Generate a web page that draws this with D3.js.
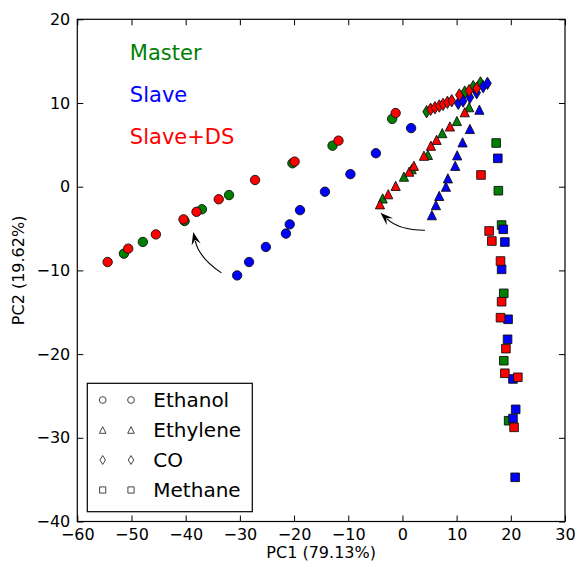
<!DOCTYPE html>
<html><head><meta charset="utf-8">
<script src="https://cdn.jsdelivr.net/npm/d3@7"></script>
<style>body{margin:0;background:#fff} svg{display:block}</style>
</head><body><svg id="c" width="575" height="565"></svg>
<script>
// ---------- data ----------
const seriesNames = ["Master", "Slave", "Slave+DS"];
const seriesColors = ["#008000", "#0000ff", "#ff0000"];
const gasNames = ["Ethanol", "Ethylene", "CO", "Methane"];
const gasShapes = ["circle", "triangle", "diamond", "square"];

const masterEthanol = [[-51.4,-8.0],[-47.9,-6.6],[-40.2,-4.1],[-37.0,-2.7],[-32.0,-1.0],[-20.3,2.8],[-12.9,4.9],[-1.9,8.1]];
const slaveEthanol = [[-30.5,-10.6],[-28.3,-9.0],[-25.2,-7.2],[-21.5,-5.6],[-20.8,-4.5],[-18.9,-2.8],[-14.3,-0.6],[-9.6,1.5],[-4.9,4.0],[1.6,7.0]];
const dsEthanol = [[-54.4,-9.0],[-50.6,-7.4],[-45.5,-5.7],[-40.4,-3.9],[-38.0,-3.0],[-33.9,-1.5],[-27.2,0.8],[-19.9,3.0],[-11.8,5.5],[-1.25,8.8]];

const masterEthylene = [[-3.65,-1.4],[0.28,1.2],[1.7,2.1],[4.7,3.8],[7.35,6.4],[10.05,7.85],[12.3,9.5]];
const slaveEthylene = [[5.44,-3.4],[6.18,-2.2],[6.79,-1.1],[8.03,0.0],[8.39,1.0],[9.74,2.5],[10.1,3.75],[11.1,5.3],[12.45,6.9],[14.2,9.2]];
const dsEthylene = [[-4.15,-2.1],[-2.62,-0.9],[-1.25,0.1],[1.25,1.8],[2.12,2.5],[3.97,3.7],[5.26,4.9],[6.3,5.6],[8.76,7.2],[11.5,8.9]];

const masterCO = [[4.46,8.96],[11.5,11.3],[13.06,11.95],[14.4,12.4]];
const slaveCO = [[10.3,9.96],[11.2,10.24],[12.45,10.68],[13.7,11.23],[14.9,11.95],[15.7,12.35]];
const dsCO = [[5.2,9.25],[6.0,9.44],[6.8,9.64],[7.5,9.84],[8.3,10.08],[9.1,10.27],[10.5,10.96],[12.3,11.47],[13.7,11.76]];

const masterMethane = [[17.3,5.22],[17.7,-0.48],[18.3,-4.58],[18.7,-12.74],[18.7,-20.79],[19.6,-27.96]];
const slaveMethane = [[17.6,3.39],[18.6,-5.09],[18.9,-6.61],[18.3,-9.87],[19.5,-15.84],[19.4,-18.23],[20.4,-22.97],[20.9,-26.6],[20.4,-27.7],[20.8,-34.72]];
const dsMethane = [[14.5,1.4],[16.0,-5.29],[16.5,-6.49],[18.1,-8.88],[18.3,-13.74],[18.1,-15.65],[19.1,-19.35],[18.9,-22.29],[21.3,-22.77],[20.6,-28.75]];

const xTicks = [-60,-50,-40,-30,-20,-10,0,10,20,30];
const yTicks = [-40,-30,-20,-10,0,10,20];
const xLabel = "PC1 (79.13%)";
const yLabel = "PC2 (19.62%)";

// series label positions (data coords)
const seriesLabelPos = [[-50.3,15.1],[-50.3,10.1],[-50.3,5.1]];
// arrows (data coords): tail -> tip
const arrowTails = [[-33.4,-10.3],[4.15,-5.2]];
const arrowTips = [[-38.6,-5.4],[-4.06,-3.1]];

const dataBySeries = [
  [masterEthanol, masterEthylene, masterCO, masterMethane],
  [slaveEthanol, slaveEthylene, slaveCO, slaveMethane],
  [dsEthanol, dsEthylene, dsCO, dsMethane]
];

// ---------- chart ----------
const FONT = "'DejaVu Sans', sans-serif";
const svg = d3.select("#c");
const x = d3.scaleLinear([-60,30],[77.3,565]);
const y = d3.scaleLinear([-40,20],[521.5,19.3]);

function shapePath(shape, k) {
  if (shape === "circle") return d3.symbol(d3.symbolCircle, Math.PI*Math.pow(4.7*k,2))();
  if (shape === "triangle") { const w=9.2*k, h=9.2*k; return `M0,${-h/2}L${w/2},${h/2}L${-w/2},${h/2}Z`; }
  if (shape === "square") { const a=8.6*k; return `M${-a/2},${-a/2}h${a}v${a}h${-a}Z`; }
  if (shape === "diamond") { const w=7.6*k, h=12.4*k; return `M0,${-h/2}L${w/2},0L0,${h/2}L${-w/2},0Z`; }
}

// axes
function styleAxis(g){
  g.select(".domain").remove();
  g.selectAll("line").attr("stroke","#000").attr("stroke-width",1);
  g.selectAll("text").attr("font-family",FONT).attr("font-size",16).attr("fill","#000");
}
svg.append("g").attr("transform",`translate(0,${y(-40)})`)
  .call(d3.axisBottom(x).tickValues(xTicks).tickSize(-6).tickPadding(7)).call(styleAxis);
svg.append("g").attr("transform",`translate(${x(-60)},0)`)
  .call(d3.axisLeft(y).tickValues(yTicks).tickSize(-6).tickPadding(7)).call(styleAxis);
svg.append("g").attr("transform",`translate(0,${y(20)})`)
  .call(d3.axisTop(x).tickValues(xTicks).tickSize(-6).tickFormat("")).call(styleAxis);
svg.append("g").attr("transform",`translate(${x(30)},0)`)
  .call(d3.axisRight(y).tickValues(yTicks).tickSize(-6).tickFormat("")).call(styleAxis);

// points
const plot = svg.append("g");
dataBySeries.forEach((gases, si) => {
  gases.forEach((pts, gi) => {
    plot.selectAll(null).data(pts).enter().append("path")
      .attr("d", shapePath(gasShapes[gi], 1))
      .attr("transform", d => `translate(${x(d[0])},${y(d[1])})`)
      .attr("fill", seriesColors[si])
      .attr("stroke", "#111").attr("stroke-width", 0.9);
  });
});

// frame
svg.append("rect").attr("x",x(-60)).attr("y",y(20))
  .attr("width",x(30)-x(-60)).attr("height",y(-40)-y(20))
  .attr("fill","none").attr("stroke","#000").attr("stroke-width",1.2);

// series labels
seriesNames.forEach((n,i)=>{
  svg.append("text").attr("x",x(seriesLabelPos[i][0])).attr("y",y(seriesLabelPos[i][1]))
    .attr("font-family",FONT).attr("font-size",21).attr("fill",seriesColors[i]).text(n);
});

// arrows
arrowTails.forEach((t,i)=>{
  const p0=[x(t[0]),y(t[1])], p1=[x(arrowTips[i][0]),y(arrowTips[i][1])];
  const dx=p1[0]-p0[0], dy=p1[1]-p0[1], rad=0.2;
  const c=[(p0[0]+p1[0])/2 + rad*dy, (p0[1]+p1[1])/2 - rad*dx];
  const tx=p1[0]-c[0], ty=p1[1]-c[1], tl=Math.hypot(tx,ty);
  const ux=tx/tl, uy=ty/tl, px=-uy, py=ux;
  const L=13, Wd=4.6;
  const base=[p1[0]-ux*L, p1[1]-uy*L];
  const notch=[p1[0]-ux*L*0.62, p1[1]-uy*L*0.62];
  const end=[p1[0]-ux*L*0.7, p1[1]-uy*L*0.7];
  svg.append("path").attr("d",`M${p0[0]},${p0[1]}Q${c[0]},${c[1]} ${end[0]},${end[1]}`)
    .attr("fill","none").attr("stroke","#000").attr("stroke-width",1.1);
  svg.append("path").attr("d",`M${p1[0]},${p1[1]}L${base[0]+px*Wd},${base[1]+py*Wd}L${notch[0]},${notch[1]}L${base[0]-px*Wd},${base[1]-py*Wd}Z`)
    .attr("fill","#000");
});

// legend
const lg = svg.append("g");
lg.append("rect").attr("x",87.3).attr("y",383.3).attr("width",165).attr("height",128.4)
  .attr("fill","#fff").attr("stroke","#000").attr("stroke-width",1.2);
gasNames.forEach((n,i)=>{
  const ry = 400 + i*30;
  [102.7,131].forEach(mx=>{
    lg.append("path").attr("d",shapePath(gasShapes[i],0.72))
      .attr("transform",`translate(${mx},${ry})`)
      .attr("fill","#fff").attr("stroke","#444").attr("stroke-width",1);
  });
  lg.append("text").attr("x",153.3).attr("y",ry+7).attr("font-family",FONT)
    .attr("font-size",20).attr("fill","#000").text(n);
});

// axis labels
svg.append("text").attr("x",(x(-60)+x(30))/2).attr("y",558).attr("text-anchor","middle")
  .attr("font-family",FONT).attr("font-size",16).attr("fill","#000").text(xLabel);
svg.append("text").attr("transform",`translate(24,${(y(20)+y(-40))/2}) rotate(-90)`)
  .attr("text-anchor","middle").attr("font-family",FONT).attr("font-size",16).attr("fill","#000").text(yLabel);
</script></body></html>
